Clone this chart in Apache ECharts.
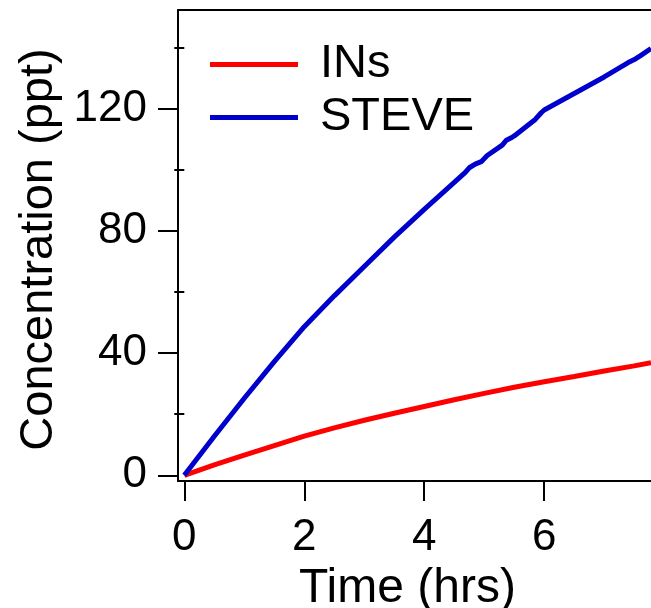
<!DOCTYPE html>
<html>
<head>
<meta charset="utf-8">
<script src="https://cdn.jsdelivr.net/npm/echarts@6/dist/echarts.min.js"></script>
<style>
html,body{margin:0;padding:0;background:#fff;}
#chart{width:651px;height:608px;}
</style>
</head>
<body>
<div id="chart"></div>
<script>
const xTickValues = [0, 2, 4, 6];
const yTickValues = [0, 40, 80, 120];
const yMinorTickValues = [20, 60, 100, 140];

const insTime = [0, 0.5, 1, 1.5, 2, 2.5, 3, 3.5, 4, 4.5, 5, 5.5, 6, 6.5, 7, 7.5, 7.78];
const insConc = [0, 3.4, 6.6, 9.7, 12.8, 15.5, 18.0, 20.3, 22.5, 24.7, 26.8, 28.8, 30.6, 32.3, 34.1, 35.8, 36.8];

const steveTime = [0, 0.5, 1, 1.5, 2, 2.5, 3, 3.5, 4, 4.5, 4.68, 4.75, 4.85, 4.95, 5.05, 5.3, 5.37, 5.45, 5.5, 5.85, 5.95, 6, 6.5, 7, 7.4, 7.52, 7.6, 7.78];
const steveConc = [0, 12.8, 25.2, 37.2, 48.6, 58.7, 68.3, 77.9, 87.0, 95.8, 99.0, 100.6, 101.8, 102.6, 104.6, 108.0, 109.6, 110.4, 111.0, 116.4, 118.6, 119.5, 124.9, 130.3, 135.0, 136.2, 137.2, 139.6];

const seriesNames = ['INs', 'STEVE'];
const seriesColors = ['#ff0000', '#0000cc'];

const xMin = -0.105, xMax = 7.78;
const yMin = -1.86, yMax = 152.2;

const FONT = 'Liberation Sans, Arial, Helvetica, sans-serif';

const chart = echarts.init(document.getElementById('chart'), null, {renderer: 'canvas'});

const pairs = (xs, ys) => xs.map((x, i) => [x, ys[i]]);

const option = {
  animation: false,
  backgroundColor: '#ffffff',
  grid: {left: 178, right: 0, top: 10, bottom: 127, containLabel: false, outerBoundsMode: 'none'},
  legend: {
    orient: 'vertical',
    left: 210,
    top: 38,
    padding: 0,
    itemGap: 0,
    itemWidth: 88,
    itemHeight: 5,
    icon: 'rect',
    textStyle: {fontFamily: FONT, fontSize: 47, lineHeight: 47, color: '#000', padding: [0, 0, 6, 17]},
    data: seriesNames.map((n, i) => ({name: n, itemStyle: {color: seriesColors[i]}}))
  },
  xAxis: [
    {
      type: 'value', position: 'bottom', min: xMin, max: xMax,
      name: 'Time (hrs)', nameLocation: 'middle', nameGap: 75,
      nameTextStyle: {fontFamily: FONT, fontSize: 48, color: '#000', padding: [0, 14, 0, 0]},
      axisLine: {show: true, onZero: false, lineStyle: {color: '#000', width: 2}},
      axisTick: {show: true, length: 20, inside: false, customValues: xTickValues, lineStyle: {color: '#000', width: 2}},
      axisLabel: {show: true, customValues: xTickValues, margin: 35, fontFamily: FONT, fontSize: 44, color: '#000'},
      splitLine: {show: false}
    },
    {
      type: 'value', position: 'top', min: xMin, max: xMax,
      axisLine: {show: true, onZero: false, lineStyle: {color: '#000', width: 2}},
      axisTick: {show: false}, axisLabel: {show: false}, splitLine: {show: false}
    }
  ],
  yAxis: [
    {
      type: 'value', position: 'left', min: yMin, max: yMax,
      name: 'Concentration (ppt)', nameLocation: 'middle', nameGap: 114, nameRotate: 90,
      nameTextStyle: {fontFamily: FONT, fontSize: 47, color: '#000', padding: [0, 8, 0, 0]},
      axisLine: {show: true, onZero: false, lineStyle: {color: '#000', width: 2}},
      axisTick: {show: true, length: 20, inside: false, customValues: yTickValues, lineStyle: {color: '#000', width: 2}},
      axisLabel: {show: true, customValues: yTickValues, margin: 31, fontFamily: FONT, fontSize: 44, color: '#000'},
      splitLine: {show: false}
    },
    {
      type: 'value', position: 'left', min: yMin, max: yMax,
      axisLine: {show: false},
      axisTick: {show: true, length: 10, inside: false, customValues: yMinorTickValues, lineStyle: {color: '#000', width: 2}},
      axisLabel: {show: false}, splitLine: {show: false}
    }
  ],
  series: [
    {
      name: seriesNames[0], type: 'line', xAxisIndex: 0, yAxisIndex: 0,
      data: pairs(insTime, insConc), showSymbol: false, smooth: false,
      lineStyle: {color: seriesColors[0], width: 5}, itemStyle: {color: seriesColors[0]}
    },
    {
      name: seriesNames[1], type: 'line', xAxisIndex: 0, yAxisIndex: 0,
      data: pairs(steveTime, steveConc), showSymbol: false, smooth: false,
      lineStyle: {color: seriesColors[1], width: 5}, itemStyle: {color: seriesColors[1]}
    }
  ]
};
chart.setOption(option);
</script>
</body>
</html>
